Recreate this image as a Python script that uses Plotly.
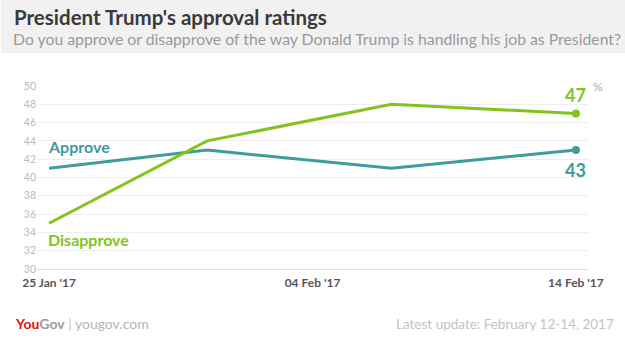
import plotly.graph_objects as go

# Poll dates and results (%)
dates = ["2017-01-25", "2017-01-31", "2017-02-07", "2017-02-14"]
approve = [41, 43, 41, 43]
disapprove = [35, 44, 48, 47]

tick_dates = ["2017-01-25", "2017-02-04", "2017-02-14"]
tick_labels = ["25 Jan '17", "04 Feb '17", "14 Feb '17"]
y_ticks = list(range(30, 51, 2))

TEAL = "#3f9b9d"
GREEN = "#82c41c"
FONT = "Lato"

W, H = 625, 348
L, R, T, B = 37, 37, 86, 79
PW, PH = W - L - R, H - T - B


def px(x):
    return (x - L) / PW


def py(y):
    return (H - B - y) / PH


fig = go.Figure()
fig.add_trace(go.Scatter(x=dates, y=approve, mode="lines", line=dict(color=TEAL, width=3),
                         hoverinfo="x+y", name="Approve"))
fig.add_trace(go.Scatter(x=dates, y=disapprove, mode="lines", line=dict(color=GREEN, width=3),
                         hoverinfo="x+y", name="Disapprove"))
# end-point dots
fig.add_trace(go.Scatter(x=[dates[-1]], y=[approve[-1]], mode="markers",
                         marker=dict(color=TEAL, size=8), hoverinfo="skip"))
fig.add_trace(go.Scatter(x=[dates[-1]], y=[disapprove[-1]], mode="markers",
                         marker=dict(color=GREEN, size=8), hoverinfo="skip"))

annotations = [
    dict(x=px(12), y=py(17), xref="paper", yref="paper", xanchor="left", yanchor="middle",
         text="<b>President Trump's approval ratings</b>", showarrow=False,
         font=dict(family=FONT, size=20.5, color="#3a3a3a")),
    dict(x=px(11), y=py(39), xref="paper", yref="paper", xanchor="left", yanchor="middle",
         text="Do you approve or disapprove of the way Donald Trump is handling his job as President?",
         showarrow=False, font=dict(family=FONT, size=15.8, color="#9a9a9a")),
    dict(x=px(46), y=py(146), xref="paper", yref="paper", xanchor="left", yanchor="middle",
         text="<b>Approve</b>", showarrow=False, font=dict(family=FONT, size=16, color=TEAL)),
    dict(x=px(46), y=py(239), xref="paper", yref="paper", xanchor="left", yanchor="middle",
         text="<b>Disapprove</b>", showarrow=False, font=dict(family=FONT, size=16, color=GREEN)),
    dict(x=dates[-1], y=disapprove[-1], xref="x", yref="y", yshift=18, xanchor="center",
         yanchor="middle", text=f"<b>{disapprove[-1]}</b>", showarrow=False,
         font=dict(family=FONT, size=18, color=GREEN)),
    dict(x=dates[-1], y=approve[-1], xref="x", yref="y", yshift=-20, xanchor="center",
         yanchor="middle", text=f"<b>{approve[-1]}</b>", showarrow=False,
         font=dict(family=FONT, size=18, color=TEAL)),
    dict(x=px(598), y=py(86), xref="paper", yref="paper", xanchor="center", yanchor="middle",
         text="%", showarrow=False, font=dict(family=FONT, size=12, color="#aaaaaa")),
    dict(x=px(13), y=py(323), xref="paper", yref="paper", xanchor="left", yanchor="middle",
         text="<b><span style='color:#e3120b'>You</span><span style='color:#9a9a9a'>Gov</span></b>"
              "<span style='color:#cccccc'> | </span>yougov.com",
         showarrow=False, font=dict(family=FONT, size=14, color="#b5b5b5")),
    dict(x=px(616), y=py(324), xref="paper", yref="paper", xanchor="right", yanchor="middle",
         text="Latest update: February 12-14, 2017", showarrow=False,
         font=dict(family=FONT, size=13.5, color="#c4c4c4")),
]

shapes = [
    dict(type="rect", xref="paper", yref="paper", x0=px(1), x1=px(625), y0=py(53), y1=py(0),
         fillcolor="#f1f1f1", line=dict(width=0), layer="below"),
]

fig.update_layout(
    width=W, height=H,
    margin=dict(l=L, r=R, t=T, b=B),
    paper_bgcolor="white", plot_bgcolor="white",
    showlegend=False,
    font=dict(family=FONT),
    annotations=annotations,
    shapes=shapes,
    xaxis=dict(
        range=["2017-01-24 13:00", "2017-02-14 11:00"],
        tickvals=tick_dates, ticktext=tick_labels,
        showgrid=False, zeroline=False,
        showline=True, linecolor="#dddddd", linewidth=1,
        ticks="", ticklabelstandoff=3,
        tickfont=dict(family=FONT, size=12, color="#555555", weight="bold"),
        fixedrange=True,
    ),
    yaxis=dict(
        range=[30, 50], tickvals=y_ticks,
        showgrid=True, gridcolor="#eeeeee", gridwidth=1,
        zeroline=False, showline=False, ticks="",
        tickfont=dict(family=FONT, size=10.5, color="#bbbbbb"),
        fixedrange=True,
    ),
)

fig.write_html("out.html")
